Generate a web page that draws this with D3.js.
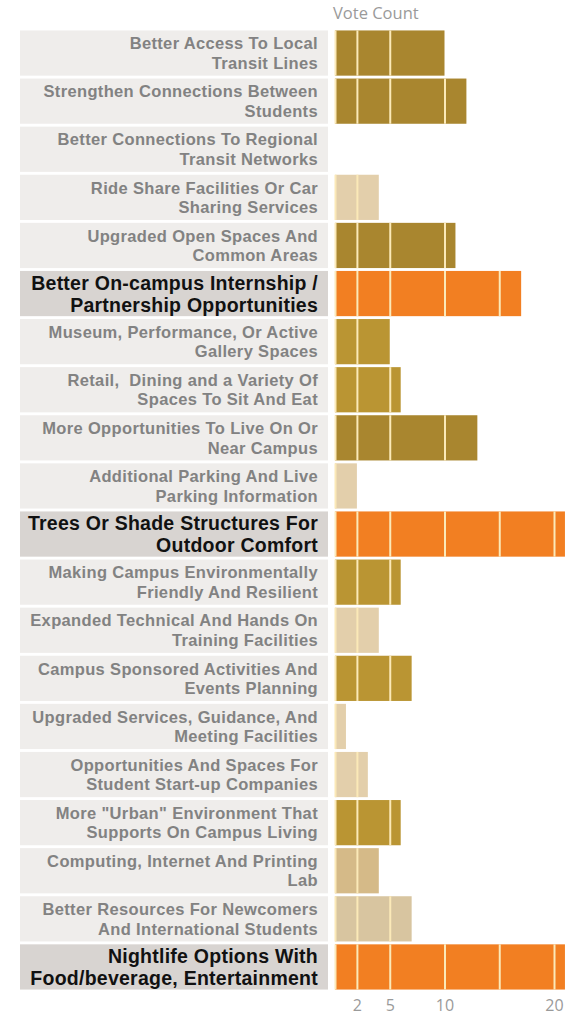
<!DOCTYPE html>
<html>
<head>
<meta charset="utf-8">
<script src="https://cdn.jsdelivr.net/npm/d3@7"></script>
<style>
  html, body { margin: 0; padding: 0; background: #fff; }
  svg { display: block; }
</style>
</head>
<body>
<svg id="chart" width="586" height="1018"></svg>
<script>
// Survey items, two-line labels (line break marked with \n)
const categories = [
  "Better Access To Local\nTransit Lines",
  "Strengthen Connections Between\nStudents",
  "Better Connections To Regional\nTransit Networks",
  "Ride Share Facilities Or Car\nSharing Services",
  "Upgraded Open Spaces And\nCommon Areas",
  "Better On-campus Internship /\nPartnership Opportunities",
  "Museum, Performance, Or Active\nGallery Spaces",
  "Retail,  Dining and a Variety Of\nSpaces To Sit And Eat",
  "More Opportunities To Live On Or\nNear Campus",
  "Additional Parking And Live\nParking Information",
  "Trees Or Shade Structures For\nOutdoor Comfort",
  "Making Campus Environmentally\nFriendly And Resilient",
  "Expanded Technical And Hands On\nTraining Facilities",
  "Campus Sponsored Activities And\nEvents Planning",
  "Upgraded Services, Guidance, And\nMeeting Facilities",
  "Opportunities And Spaces For\nStudent Start-up Companies",
  "More \"Urban\" Environment That\nSupports On Campus Living",
  "Computing, Internet And Printing\nLab",
  "Better Resources For Newcomers\nAnd International Students",
  "Nightlife Options With\nFood/beverage, Entertainment"
];

const votes = [10, 12, 0, 4, 11, 17, 5, 6, 13, 2, 21, 6, 4, 7, 1, 3, 6, 4, 7, 21];

// Colour group of each bar
const groups = ["dark", "dark", "dark", "tan", "dark", "top", "gold", "gold", "dark", "tan",
                "top", "gold", "tan", "gold", "tan", "tan", "gold", "mid", "pale", "top"];

const groupColors = {
  dark: "#a9862f",
  gold: "#ba9533",
  tan: "#e3cfab",
  mid: "#d5ba88",
  pale: "#d8c5a0",
  top: "#f27f22"
};

const tickValues = [2, 5, 10, 20];
const gridValues = [0, 2, 5, 10, 15, 20];
const axisTitle = "Vote Count";

const svg = d3.select("#chart");

const y = d3.scaleBand()
  .domain(d3.range(categories.length))
  .range([29, 991])
  .paddingInner(0.06)
  .paddingOuter(0.03);

const x = d3.scaleLinear().domain([0, 20]).range([335, 554]);

const labelLeft = 20, labelRight = 328;

const rows = svg.append("g").selectAll("g.row")
  .data(categories.map((c, i) => ({ name: c, value: votes[i], group: groups[i], i })))
  .join("g")
  .attr("class", "row")
  .attr("transform", d => `translate(0,${y(d.i)})`);

// label panels
rows.append("rect")
  .attr("x", labelLeft)
  .attr("width", labelRight - labelLeft)
  .attr("height", y.bandwidth())
  .attr("fill", d => d.group === "top" ? "#d8d4d1" : "#efedeb");

// labels, right-aligned
rows.each(function (d) {
  const top = d.group === "top";
  const lines = d.name.split("\n");
  const fs = top ? 19.5 : 16.5;
  const lh = top ? 22 : 19.5;
  const mid = y.bandwidth() / 2;
  const t = d3.select(this).append("text")
    .attr("text-anchor", "end")
    .attr("font-family", "'Liberation Sans', Arial, sans-serif")
    .attr("font-weight", "bold")
    .attr("font-size", fs)
    .attr("letter-spacing", top ? 0.25 : 0.35)
    .attr("fill", top ? "#111" : "#828282");
  lines.forEach((ln, k) => {
    t.append("tspan")
      .attr("x", labelRight - 10)
      .attr("y", mid + (k - (lines.length - 1) / 2) * lh + fs * 0.36)
      .attr("xml:space", "preserve")
      .text(ln);
  });
});

// bars
rows.append("rect")
  .attr("x", x(0))
  .attr("width", d => Math.max(0, x(d.value) - x(0)))
  .attr("height", y.bandwidth())
  .attr("fill", d => groupColors[d.group]);

// grid lines drawn across each bar
rows.each(function (d) {
  if (d.value <= 0) return;
  d3.select(this).selectAll("line.grid")
    .data(gridValues.filter(v => v < d.value))
    .join("line")
    .attr("class", "grid")
    .attr("x1", v => x(v) + 0.5).attr("x2", v => x(v) + 0.5)
    .attr("y1", 0).attr("y2", y.bandwidth())
    .attr("stroke", "#fbe9b8")
    .attr("stroke-width", 2);
});

// bottom axis
const axis = d3.axisBottom(x).tickValues(tickValues).tickSize(0).tickPadding(0);
const ag = svg.append("g").attr("transform", "translate(0,997)").call(axis);
ag.select(".domain").remove();
ag.selectAll("text")
  .attr("dy", "0.9em")
  .attr("font-family", "'Open Sans', sans-serif")
  .attr("font-size", 16)
  .attr("fill", "#9a9a9a");

// axis title
svg.append("text")
  .attr("x", 333)
  .attr("y", 19)
  .attr("font-family", "'Open Sans', sans-serif")
  .attr("font-size", 16.5)
  .attr("fill", "#9a9a9a")
  .text(axisTitle);
</script>
</body>
</html>
